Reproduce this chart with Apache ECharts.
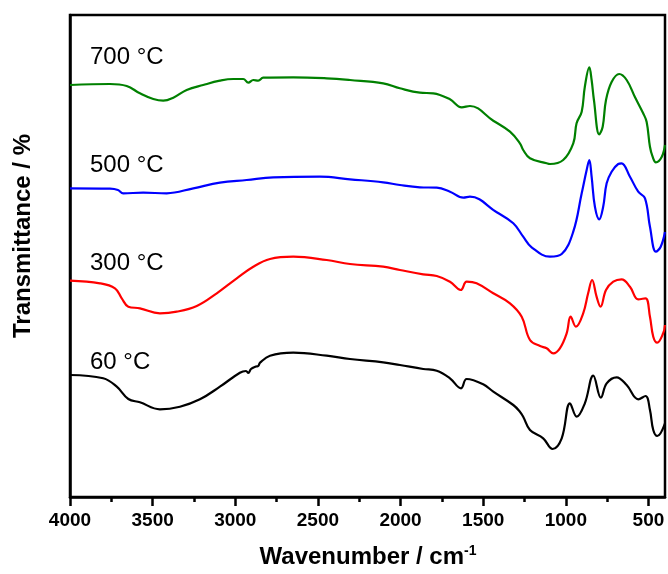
<!DOCTYPE html>
<html>
<head>
<meta charset="utf-8">
<script src="https://cdn.jsdelivr.net/npm/echarts@6/dist/echarts.min.js"></script>
<style>
  html, body { margin: 0; padding: 0; background: #fff; }
  #chart { width: 668px; height: 574px; }
</style>
</head>
<body>
<div id="chart"></div>
<script>
// FTIR spectra, [wavenumber cm-1, transmittance (offset, arbitrary units)]
var spec700 = [[4000,412],[3758,413],[3657,411],[3577,403.7],[3496,398],[3436,396.3],[3375,399.3],[3294,407],[3194,412],[3093,416.3],
  [3012,418],[2952,418],[2921,414.3],[2891,417],[2861,416.3],[2831,419.3],[2649,419.7],[2447,418.7],[2306,417],[2105,413.7],
  [2004,408.7],[1883,404.3],[1802,403.7],[1701,397.7],[1630,389.7],[1580,391],[1439,376.3],[1338,365.3],[1278,353.7],[1258,347],
  [1217,338.7],[1116,333.7],[1096,333],[1016,337],[955,353.7],[935,373.7],[904,385.3],[885,410.3],[858,429.7],[844,417],
  [830,397],[798,362.7],[777,370.3],[757,397],[723,415],[677,423],[632,417],[582,400],[532,383.7],[511,375],
  [491,350.3],[475,340.3],[455,334.7],[420,340],[400,352]];

var spec500 = [[4000,308.7],[3758,308.3],[3710,307],[3678,303.7],[3557,304.3],[3415,303.7],[3254,308.7],[3093,314.3],[2931,317],[2770,319.7],
  [2488,320.3],[2306,317.7],[2105,314.7],[2004,312],[1883,309.7],[1781,309.3],[1701,305.3],[1620,299.3],[1580,300.3],[1418,284.7],
  [1318,273.7],[1258,260.3],[1207,249.7],[1096,240.3],[1025,243],[955,265.3],[904,303.7],[874,327],[858,337],[844,320.3],
  [824,290.3],[798,277.7],[774,290.3],[753,313.7],[723,325.3],[683,333],[663,333.7],[612,320.3],[562,305.3],[521,298.7],
  [491,270.3],[455,245.3],[426,250.3],[400,265]];

var spec300 = [[4000,216.3],[3819,213.7],[3728,208.7],[3687,198.7],[3647,190.3],[3577,188.7],[3456,183.7],[3354,185.3],[3233,191],[3112,203.7],
  [2991,218.7],[2891,230.3],[2790,238],[2649,240.3],[2447,237],[2306,233],[2105,230.3],[2004,227],[1863,222.7],[1781,221],
  [1701,215.3],[1636,207],[1600,215.3],[1540,213.7],[1439,203.7],[1338,193.7],[1267,180.3],[1217,157],[1156,151],[1116,148.7],
  [1076,143.7],[1036,148.7],[995,163.7],[971,180.3],[939,170.3],[895,183.7],[865,203.7],[841,217],[814,200.3],[790,190.3],
  [757,207],[713,215.3],[663,217.7],[612,210.3],[562,197.7],[518,198.7],[491,180.3],[471,160.3],[447,154.3],[411,163.7],[400,172]];

var spec60 = [[4000,122],[3799,118.7],[3717,110.3],[3647,98],[3577,94.7],[3456,87.7],[3335,90.3],[3214,97.7],[3093,110.3],[2972,124.3],
  [2935,126],[2921,124],[2905,128],[2875,130.5],[2861,131],[2850,134.3],[2790,141.3],[2649,144.3],[2447,141.3],[2306,138],
  [2105,134.7],[2004,132],[1863,128],[1781,126.3],[1701,118.7],[1634,108.7],[1600,118],[1500,112.7],[1439,105.3],[1318,92],
  [1278,85.3],[1258,80.3],[1217,67],[1137,58.7],[1080,48],[1025,58.7],[975,93.7],[934,80.3],[885,93.7],[834,121.3],
  [788,99.3],[753,113.7],[693,119.7],[632,112],[562,97.7],[518,101],[491,87],[471,67],[447,61],[400,73.7]];

var majorTicks = [500, 1000, 1500, 2000, 2500, 3000, 3500, 4000];
var minorTicks = [750, 1250, 1750, 2250, 2750, 3250, 3750];
var seriesNames = ['700 °C', '500 °C', '300 °C', '60 °C'];
var seriesColors = ['#008000', '#0000ff', '#ff0000', '#000000'];

var FONT = '"Liberation Sans", Arial, Helvetica, sans-serif';

var chart = echarts.init(document.getElementById('chart'));

function mkSeries(name, data, color) {
  return {
    name: name,
    type: 'line',
    data: data,
    xAxisIndex: 0,
    showSymbol: false,
    smooth: 0.4,
    lineStyle: { color: color, width: 2.2 },
    silent: true,
    animation: false
  };
}

var option = {
  animation: false,
  grid: {
    left: 70, right: 3, top: 15, bottom: 77,
    show: true, borderColor: '#000', borderWidth: 2.5,
    containLabel: false, outerBoundsMode: 'none'
  },
  xAxis: [{
    type: 'value', inverse: true, min: 400, max: 4000, position: 'bottom',
    axisLine: { show: true, lineStyle: { color: '#000', width: 2.5 } },
    axisTick: { show: true, customValues: majorTicks, length: 9, lineStyle: { color: '#000', width: 2.5 } },
    axisLabel: {
      customValues: majorTicks, color: '#000', fontSize: 19, fontWeight: 'bold', fontFamily: FONT, margin: 14,
      formatter: function (v) { return String(v); }
    },
    splitLine: { show: false }
  }, {
    type: 'value', inverse: true, min: 400, max: 4000, position: 'bottom',
    axisLine: { show: false },
    axisTick: { show: true, customValues: minorTicks, length: 5, lineStyle: { color: '#000', width: 2.5 } },
    axisLabel: { show: false },
    splitLine: { show: false }
  }],
  yAxis: {
    type: 'value', min: 0, max: 482,
    axisLine: { show: true, lineStyle: { color: '#000', width: 2.5 } },
    axisTick: { show: false },
    axisLabel: { show: false },
    splitLine: { show: false }
  },
  series: [
    mkSeries(seriesNames[3], spec60, seriesColors[3]),
    mkSeries(seriesNames[2], spec300, seriesColors[2]),
    mkSeries(seriesNames[1], spec500, seriesColors[1]),
    mkSeries(seriesNames[0], spec700, seriesColors[0])
  ],
  graphic: [
    { type: 'text', left: 90, top: 45, style: { text: seriesNames[0], fill: '#000', font: '24px ' + FONT } },
    { type: 'text', left: 90, top: 153, style: { text: seriesNames[1], fill: '#000', font: '24px ' + FONT } },
    { type: 'text', left: 90, top: 251, style: { text: seriesNames[2], fill: '#000', font: '24px ' + FONT } },
    { type: 'text', left: 90, top: 350, style: { text: seriesNames[3], fill: '#000', font: '24px ' + FONT } },
    {
      type: 'text', x: 23, y: 236, rotation: Math.PI / 2,
      style: { text: 'Transmittance / %', fill: '#000', font: 'bold 24px ' + FONT, align: 'center', verticalAlign: 'middle' }
    },
    {
      type: 'text', x: 368, y: 557,
      style: {
        text: '{a|Wavenumber / cm}{b|-1}', align: 'center', verticalAlign: 'middle',
        rich: {
          a: { fill: '#000', fontSize: 24, fontWeight: 'bold', fontFamily: FONT },
          b: { fill: '#000', fontSize: 14, fontWeight: 'bold', fontFamily: FONT, verticalAlign: 'top', padding: [0, 0, 12, 0] }
        }
      }
    }
  ]
};

chart.setOption(option);
</script>
</body>
</html>
